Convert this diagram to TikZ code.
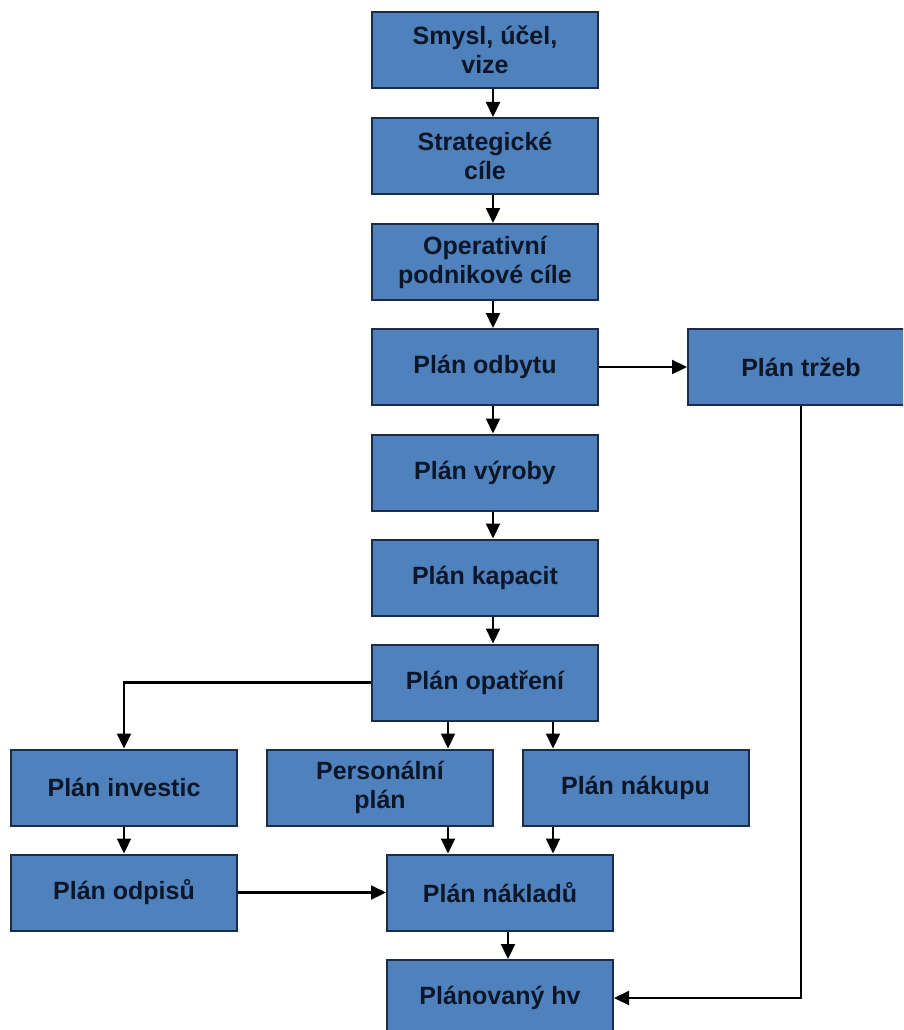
\documentclass[tikz,border=0pt]{standalone}
\usepackage{fontspec}
\setmainfont{Liberation Sans}
\usetikzlibrary{arrows.meta}
\definecolor{boxfill}{HTML}{4F81BD}
\definecolor{boxline}{HTML}{1A2C48}
\definecolor{boxtext}{HTML}{0B1628}
\begin{document}
\begin{tikzpicture}[x=1pt,y=-1pt,
  planbox/.style={draw=boxline, line width=2pt, fill=boxfill,
    minimum width=226pt, minimum height=76pt, inner sep=0pt,
    text=boxtext, font=\fontsize{25}{29}\selectfont\bfseries, align=center},
  link/.style={line width=2.2pt, -{Triangle[length=15pt,width=14pt]}}]
\useasboundingbox (0,0) rectangle (903,1030);
\clip (0,0) rectangle (903,1030);

% main column
\node[planbox] (smysl)    at (485,50)    {Smysl, účel,\\vize};
\node[planbox] (strat)    at (485,156)   {Strategické\\cíle};
\node[planbox] (oper)     at (485,262)   {Operativní\\podnikové cíle};
\node[planbox] (odbyt)    at (485,367)   {Plán odbytu};
\node[planbox] (trzby)    at (801,367)   {Plán tržeb};
\node[planbox] (vyroba)   at (485,472.5) {Plán výroby};
\node[planbox] (kapacit)  at (485,577.5) {Plán kapacit};
\node[planbox] (opatreni) at (485,682.5) {Plán opatření};

% second level
\node[planbox] (investic) at (124,787.5)   {Plán investic};
\node[planbox] (person)   at (380,787.5)   {Personální\\plán};
\node[planbox] (nakup)    at (635.5,787.5) {Plán nákupu};
\node[planbox] (odpisy)   at (124,892.5)   {Plán odpisů};
\node[planbox] (naklady)  at (500,892.5)   {Plán nákladů};
\node[planbox] (hv)       at (500,998)     {Plánovaný hv};

% connectors of the main column
\foreach \a/\b in {smysl/strat, strat/oper, oper/odbyt, odbyt/vyroba,
                   vyroba/kapacit, kapacit/opatreni}
  \draw[link] ([xshift=8pt]\a.south) -- ([xshift=8pt]\b.north);

\draw[link] (odbyt.east) -- (trzby.west);

% branching from the measures plan
\draw[link] (opatreni.west) -| (investic.north);
\draw[link] ([xshift=-37pt]opatreni.south) -- ([xshift=-37pt]opatreni.south |- person.north);
\draw[link] ([xshift=68pt]opatreni.south) -- ([xshift=68pt]opatreni.south |- nakup.north);

% into the cost plan
\draw[link] (investic.south) -- (odpisy.north);
\draw[link] ([xshift=68pt]person.south) -- ([xshift=68pt]person.south |- naklady.north);
\draw[link] ([xshift=-82.5pt]nakup.south) -- ([xshift=-82.5pt]nakup.south |- naklady.north);
\draw[link] (odpisy.east) -- (naklady.west);

% planned result
\draw[link] ([xshift=8pt]naklady.south) -- ([xshift=8pt]hv.north);
\draw[link] (trzby.south) |- (hv.east);
\end{tikzpicture}
\end{document}
